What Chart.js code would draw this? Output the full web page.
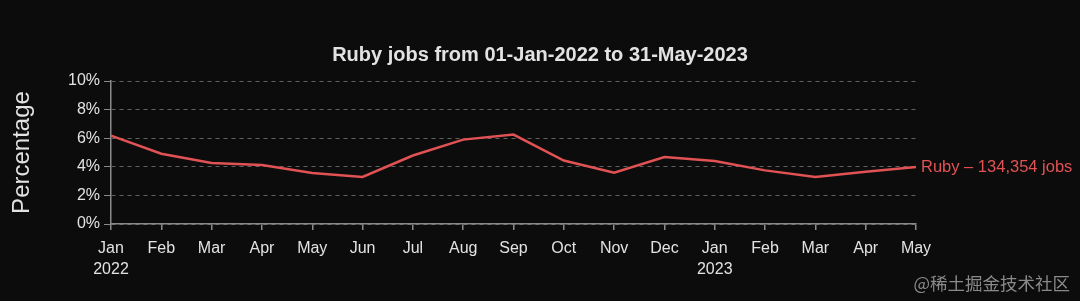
<!DOCTYPE html>
<html lang="en">
<head>
    <meta charset="UTF-8">
    <title>Ruby jobs</title>
    <script src="https://cdn.jsdelivr.net/npm/chart.js"></script>
    <style>
        html, body {
            margin: 0;
            padding: 0;
            background: #0c0c0c;
        }
        .wrap {
            position: relative;
            width: 1080px;
            height: 301px;
        }
        .watermark {
            position: absolute;
            right: 10px;
            bottom: 6px;
            font-family: 'Noto Sans CJK SC', sans-serif;
            font-size: 17.5px;
            color: #8a8a8a;
        }
    </style>
</head>
<body>
    <div class="wrap">
        <canvas id="chart" width="1080" height="301"></canvas>
        <div class="watermark">@稀土掘金技术社区</div>
    </div>

    <script>
        const months = [['Jan', '2022'], 'Feb', 'Mar', 'Apr', 'May', 'Jun', 'Jul', 'Aug', 'Sep',
                        'Oct', 'Nov', 'Dec', ['Jan', '2023'], 'Feb', 'Mar', 'Apr', 'May'];
        const rubyShare = [6.18, 4.91, 4.26, 4.12, 3.56, 3.29, 4.79, 5.9, 6.25,
                           4.44, 3.59, 4.68, 4.4, 3.75, 3.29, 3.66, 3.98];
        const seriesName = 'Ruby';
        const totalJobs = '134,354';

        const red = '#e05253';
        const textColor = '#e2e2e2';
        const font = "'Liberation Sans', Arial, sans-serif";

        // label at the end of the line
        const endLabel = {
            id: 'endLabel',
            afterDatasetsDraw(chart) {
                const meta = chart.getDatasetMeta(0);
                const last = meta.data[meta.data.length - 1];
                const ctx = chart.ctx;
                ctx.save();
                ctx.font = '16.5px ' + font;
                ctx.fillStyle = red;
                ctx.textBaseline = 'middle';
                ctx.fillText(seriesName + ' \u2013 ' + totalJobs + ' jobs', last.x + 5, last.y);
                ctx.restore();
            }
        };

        new Chart(document.getElementById('chart'), {
            type: 'line',
            data: {
                labels: months,
                datasets: [{
                    label: seriesName,
                    data: rubyShare,
                    borderColor: red,
                    borderWidth: 2.5,
                    pointRadius: 0,
                    tension: 0,
                    fill: false
                }]
            },
            options: {
                responsive: false,
                animation: false,
                layout: { padding: 0 },
                plugins: {
                    legend: { display: false },
                    tooltip: { enabled: false },
                    title: {
                        display: true,
                        text: 'Ruby jobs from 01-Jan-2022 to 31-May-2023',
                        color: textColor,
                        font: { family: font, size: 20, weight: 'bold' },
                        padding: { top: 43, bottom: 14 }
                    }
                },
                scales: {
                    x: {
                        offset: false,
                        border: { display: true, color: '#8a8a8a', width: 1.5 },
                        grid: {
                            drawOnChartArea: false,
                            drawTicks: true,
                            tickLength: 6,
                            color: '#8a8a8a',
                            lineWidth: 1.5
                        },
                        ticks: {
                            color: textColor,
                            font: { family: font, size: 16, lineHeight: 1.3 },
                            padding: 8,
                            maxRotation: 0,
                            autoSkip: false
                        },
                        afterFit(scale) { scale.height = 77; }
                    },
                    y: {
                        min: 0,
                        max: 10,
                        border: { display: true, color: '#8a8a8a', width: 1.5, dash: [4, 4] },
                        grid: {
                            color: '#606060',
                            lineWidth: 1,
                            tickLength: 7,
                            tickColor: '#8a8a8a',
                            tickBorderDash: []
                        },
                        ticks: {
                            stepSize: 2,
                            color: textColor,
                            font: { family: font, size: 16 },
                            padding: 4,
                            callback: v => v + '%'
                        },
                        title: {
                            display: true,
                            text: 'Percentage',
                            color: textColor,
                            font: { family: font, size: 24 },
                            padding: { top: 8, bottom: 0 }
                        },
                        afterFit(scale) { scale.width = 111; }
                    },
                    // empty right axis: keeps room for the end label
                    spacer: {
                        type: 'linear',
                        position: 'right',
                        display: true,
                        grid: { display: false },
                        border: { display: false },
                        ticks: { display: false },
                        afterFit(scale) { scale.width = 164; }
                    }
                }
            },
            plugins: [endLabel]
        });
    </script>
</body>
</html>
